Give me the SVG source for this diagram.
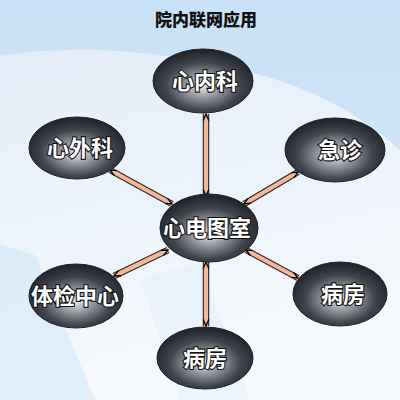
<svg xmlns="http://www.w3.org/2000/svg" width="400" height="400" viewBox="0 0 400 400">
<style>
.node{fill:url(#ng);stroke:#1e2127;stroke-width:1}
.lbl{font-family:"Noto Sans CJK SC","Noto Sans",sans-serif;font-size:22px;font-weight:bold;fill:#fff;stroke:#111;stroke-width:2.2px;paint-order:stroke;text-anchor:middle}
.title{font-family:"Noto Sans CJK SC","Noto Sans",sans-serif;font-size:17px;font-weight:900;fill:#111;text-anchor:middle}
.out{fill:none;stroke:#2c2c2c;stroke-width:6.5}
.in{fill:none;stroke:#f5b797;stroke-width:4.2;marker-start:url(#ah);marker-end:url(#ah)}
</style>
<defs>
<radialGradient id="ng" cx="0.5" cy="0.58" r="0.55">
<stop offset="0" stop-color="#ececee"/>
<stop offset="0.3" stop-color="#9a9da4"/>
<stop offset="0.68" stop-color="#40444d"/>
<stop offset="1" stop-color="#23262d"/>
</radialGradient>
<linearGradient id="bg" x1="0" y1="0" x2="0" y2="1">
<stop offset="0" stop-color="#c9e1f6"/>
<stop offset="1" stop-color="#d7e9f8"/>
</linearGradient>
<linearGradient id="lw" x1="0" y1="0" x2="0.3" y2="1">
<stop offset="0" stop-color="#e4edf8"/>
<stop offset="1" stop-color="#f6f9fd"/>
</linearGradient>
<marker id="ah" viewBox="0 0 10 10" refX="9" refY="5" markerWidth="8" markerHeight="8" markerUnits="userSpaceOnUse" orient="auto-start-reverse">
<path d="M1,1.5 L9,5 L1,8.5" fill="none" stroke="#000" stroke-width="1.6"/>
</marker>
</defs>
<rect width="400" height="400" fill="url(#bg)"/>
<path d="M0,56 Q110,38 250,72 Q340,95 400,150 L400,400 L0,400 Z" fill="url(#lw)"/>
<polygon points="0,245 35,255 95,400 0,400" fill="#b6dbf4" opacity="0.3"/>
<polygon points="140,280 200,262 250,400 180,400" fill="#d4e8f8" opacity="0.3"/>
<text class="title" x="206" y="26">院内联网应用</text>
<g id="connectors">
<path class="out" d="M206,196 L206,114"/>
<path class="in" d="M206,196 L206,114"/>
<path class="out" d="M206,262 L206,326"/>
<path class="in" d="M206,262 L206,326"/>
<path class="out" d="M172,204 L110,170"/>
<path class="in" d="M172,204 L110,170"/>
<path class="out" d="M244,204 L298,172"/>
<path class="in" d="M244,204 L298,172"/>
<path class="out" d="M168,250 L114,276"/>
<path class="in" d="M168,250 L114,276"/>
<path class="out" d="M246,250 L298,278"/>
<path class="in" d="M246,250 L298,278"/>
</g>
<g id="n-neike"><ellipse class="node" cx="203" cy="81" rx="50" ry="32"/><text class="lbl" x="205" y="89">心内科</text></g>
<g id="n-waike"><ellipse class="node" cx="77" cy="148" rx="48" ry="31"/><text class="lbl" x="80" y="156">心外科</text></g>
<g id="n-jizhen"><ellipse class="node" cx="335" cy="150" rx="50" ry="32"/><text class="lbl" x="340" y="158">急诊</text></g>
<g id="n-center"><ellipse class="node" cx="209" cy="228" rx="49" ry="34"/><text class="lbl" x="207" y="236">心电图室</text></g>
<g id="n-tijian"><ellipse class="node" cx="76" cy="296" rx="47" ry="32"/><text class="lbl" x="75" y="304">体检中心</text></g>
<g id="n-bingfang1"><ellipse class="node" cx="340" cy="294" rx="47" ry="32"/><text class="lbl" x="343" y="302">病房</text></g>
<g id="n-bingfang2"><ellipse class="node" cx="205" cy="358" rx="48" ry="31"/><text class="lbl" x="205" y="366">病房</text></g>
</svg>
